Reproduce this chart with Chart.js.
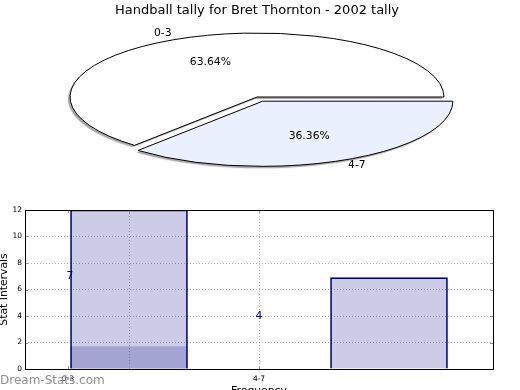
<!DOCTYPE html>
<html>
<head>
<meta charset="utf-8">
<script src="https://cdn.jsdelivr.net/npm/chart.js@4/dist/chart.umd.min.js"></script>
<style>
  html, body { margin: 0; padding: 0; background: #fff; overflow: hidden; width: 520px; height: 390px; }
  canvas { position: absolute; left: 0; }
  #pie { top: 0; }
  #bars { top: 195px; }
</style>
</head>
<body>
<canvas id="pie" width="520" height="195"></canvas>
<canvas id="bars" width="520" height="210"></canvas>
<script>
// pie data
const pieLabels = ['0-3', '4-7'];
const pieValues = [7, 4];

// bar data (x positions on a linear axis)
const barX = [1, 3];
const barHeights = [12, 6.9];
const overlayX = [1];
const overlayHeights = [1.7];

// x tick positions and labels
const xTickValues = [0.53, 1, 2];
const xTickLabels = ['0-3', '', '4-7'];

// loose text labels inside the bar plot
const noteX = [0.545, 2];
const noteY = [7, 4];
const noteText = ['7', '4'];

const FONT = 'DejaVu Sans';
const squish = 64 / 187;
const pieTotal = pieValues.reduce((a, b) => a + b, 0);

const flatPie = {
  id: 'flatPie',
  beforeDatasetsDraw(chart) {
    const ctx = chart.ctx;
    const cy = chart.getDatasetMeta(0).data[0].y;
    ctx.save();
    ctx.translate(0, cy);
    ctx.scale(1, squish);
    ctx.translate(0, -cy);
    ctx.shadowColor = 'rgba(0,0,0,0.35)';
    ctx.shadowOffsetX = -2;
    ctx.shadowOffsetY = 2;
    ctx.shadowBlur = 1;
  },
  afterDatasetsDraw(chart) {
    const ctx = chart.ctx;
    ctx.restore();
    const meta = chart.getDatasetMeta(0);
    meta.data.forEach((arc, i) => {
      const mid = (arc.startAngle + arc.endAngle) / 2;
      const t = (arc.options.offset || 0) / 4;
      const circ = arc.endAngle - arc.startAngle;
      const fix = 1 - Math.sin(Math.min(Math.PI, circ));
      const r = arc.outerRadius + t * fix;
      const cx = arc.x + Math.cos(mid) * t;
      const cy = arc.y + Math.sin(mid) * t * squish;
      ctx.save();
      ctx.beginPath();
      ctx.moveTo(cx, cy);
      ctx.ellipse(cx, cy, r, r * squish, 0, arc.startAngle, arc.endAngle);
      ctx.closePath();
      ctx.lineWidth = 1;
      ctx.strokeStyle = '#000';
      ctx.stroke();

      const R = arc.outerRadius;
      ctx.fillStyle = '#000';
      ctx.font = '10.8px "' + FONT + '"';
      ctx.textBaseline = 'middle';
      ctx.textAlign = 'center';
      const pct = (pieValues[i] / pieTotal * 100).toFixed(2) + '%';
      ctx.fillText(pct, cx + Math.cos(mid) * R * 0.6, cy + Math.sin(mid) * R * 0.6 * squish);
      ctx.textAlign = Math.cos(mid) > 0 ? 'left' : 'right';
      ctx.fillText(pieLabels[i], cx + Math.cos(mid) * R * 1.1, cy + Math.sin(mid) * R * 1.1 * squish);
      ctx.restore();
    });
  }
};

new Chart(document.getElementById('pie'), {
  type: 'pie',
  data: {
    labels: pieLabels,
    datasets: [{
      data: pieValues,
      backgroundColor: ['#ffffff', '#eaf0fd'],
      borderWidth: 0,
      offset: [0, 54],
      radius: 187,
      clip: 2000
    }]
  },
  options: {
    responsive: false,
    animation: false,
    rotation: 90 + 360 * pieValues[1] / pieTotal,
    layout: { padding: { left: 0, right: 6, top: 0, bottom: 22.6 } },
    plugins: {
      legend: { display: false },
      tooltip: { enabled: false },
      title: {
        display: true,
        text: 'Handball tally for Bret Thornton - 2002 tally',
        color: '#000',
        font: { family: FONT, size: 13, weight: 'normal' },
        padding: { top: 3, bottom: 3 }
      }
    }
  },
  plugins: [flatPie]
});

const frame = {
  id: 'frame',
  afterDraw(chart) {
    const { ctx, chartArea: a, scales: { x, y } } = chart;
    ctx.save();
    ctx.lineWidth = 1;
    ctx.strokeStyle = '#999';
    ctx.beginPath();
    y.ticks.forEach(t => {
      const py = Math.round(y.getPixelForValue(t.value)) + 0.5;
      ctx.moveTo(a.left, py); ctx.lineTo(a.left + 3, py);
      ctx.moveTo(a.right - 3, py); ctx.lineTo(a.right, py);
    });
    x.ticks.forEach(t => {
      const px = Math.round(x.getPixelForValue(t.value)) + 0.5;
      ctx.moveTo(px, a.top); ctx.lineTo(px, a.top + 3);
      ctx.moveTo(px, a.bottom - 3); ctx.lineTo(px, a.bottom);
    });
    ctx.stroke();

    ctx.strokeStyle = '#000';
    ctx.strokeRect(a.left + 0.5, a.top + 0.5, a.width, a.height);

    ctx.fillStyle = '#000080';
    ctx.font = '10.8px "' + FONT + '"';
    ctx.textAlign = 'center';
    ctx.textBaseline = 'middle';
    noteText.forEach((s, i) => {
      ctx.fillText(s, x.getPixelForValue(noteX[i]), y.getPixelForValue(noteY[i]));
    });

    ctx.fillStyle = '#8f8f8f';
    ctx.font = '12px "' + FONT + '"';
    ctx.textAlign = 'left';
    ctx.fillText('Dream-Stats.com', 0, 186);
    ctx.restore();
  }
};

new Chart(document.getElementById('bars'), {
  type: 'bar',
  data: {
    datasets: [{
      data: barX.map((v, i) => ({ x: v, y: barHeights[i] })),
      backgroundColor: 'rgba(0,0,128,0.2)',
      borderColor: '#000080',
      borderWidth: 1,
      barThickness: 117
    }, {
      data: overlayX.map((v, i) => ({ x: v, y: overlayHeights[i] })),
      backgroundColor: 'rgba(0,0,128,0.2)',
      borderWidth: 0,
      barThickness: 117
    }]
  },
  options: {
    responsive: false,
    animation: false,
    layout: { padding: { left: 0, right: 27, top: 15, bottom: 0 } },
    plugins: { legend: { display: false }, tooltip: { enabled: false } },
    scales: {
      x: {
        type: 'linear',
        stacked: true,
        offset: false,
        min: 0.2,
        max: 3.8,
        z: 1,
        afterBuildTicks: s => { s.ticks = xTickValues.map(v => ({ value: v })); },
        afterFit: s => { s.height = 36; },
        ticks: {
          autoSkip: false,
          maxRotation: 0,
          padding: 5.5,
          color: '#000',
          font: { family: FONT, size: 7.5 },
          callback: (v, i) => xTickLabels[i]
        },
        grid: {
          offset: false,
          drawTicks: false,
          color: c => (c.tick && c.tick.value >= 1) ? 'rgba(0,0,0,0.3)' : 'rgba(0,0,0,0)'
        },
        border: { display: false, dash: [1, 2] },
        title: {
          display: true,
          text: 'Frequency',
          color: '#000',
          font: { family: FONT, size: 10.8 },
          padding: { top: 0, bottom: 7 }
        }
      },
      y: {
        min: 0,
        max: 12,
        z: 1,
        afterFit: s => { s.width = 25; },
        ticks: {
          stepSize: 2,
          padding: 3,
          color: '#000',
          font: { family: FONT, size: 7.5 }
        },
        grid: { drawTicks: false, color: 'rgba(0,0,0,0.3)' },
        border: { display: false, dash: [1, 2] },
        title: {
          display: true,
          text: 'Stat Intervals',
          color: '#000',
          font: { family: FONT, size: 10.8 },
          padding: { top: -2, bottom: 0 }
        }
      }
    }
  },
  plugins: [frame]
});
</script>
</body>
</html>
